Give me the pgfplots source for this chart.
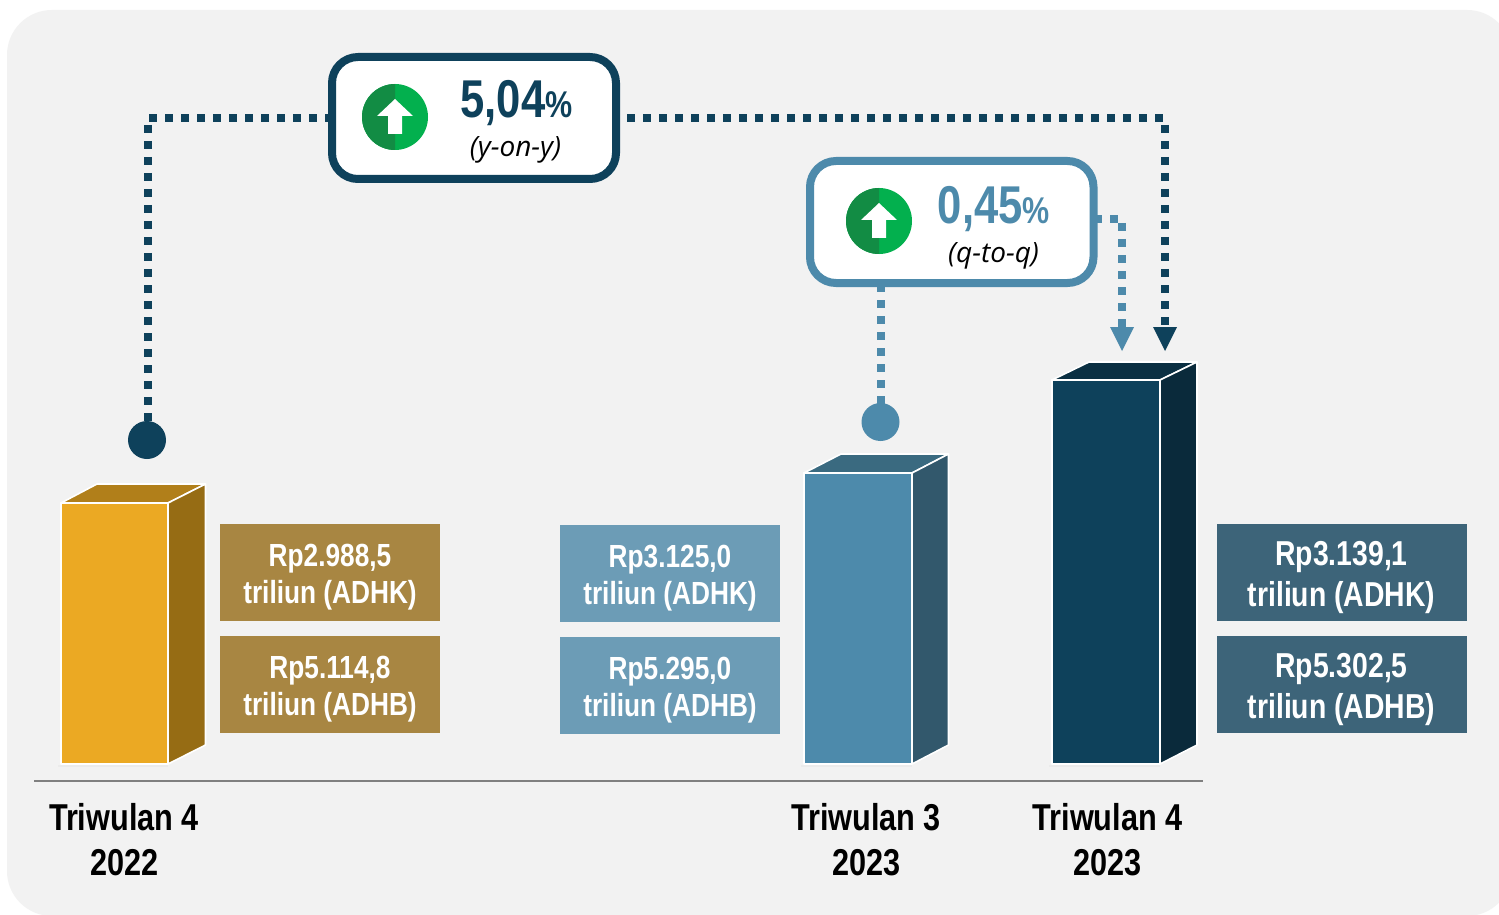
\documentclass[border=0pt]{standalone}
\usepackage{fontspec}
\usepackage{pgfplots}
\pgfplotsset{compat=1.18}
\setmainfont{Liberation Sans}
\newfontfamily\nb[FakeStretch=0.82]{Liberation Sans}
\newfontfamily\itf{Open Sans}
\definecolor{bgc}{HTML}{F2F2F2}
\definecolor{goldF}{HTML}{EBA923}
\definecolor{goldS}{HTML}{966C14}
\definecolor{goldT}{HTML}{B17F1A}
\definecolor{goldB}{HTML}{A88642}
\definecolor{blueF}{HTML}{4D8AAB}
\definecolor{blueS}{HTML}{32586C}
\definecolor{blueT}{HTML}{3A6A80}
\definecolor{blueB}{HTML}{6C9CB6}
\definecolor{navyF}{HTML}{0E415B}
\definecolor{navyS}{HTML}{0A2A3B}
\definecolor{navyT}{HTML}{0A2F42}
\definecolor{navyB}{HTML}{3D6479}
\definecolor{grD}{HTML}{128C44}
\definecolor{grL}{HTML}{03B04E}
\pgfdeclareplotmark{halfL}{%
  \pgfpathmoveto{\pgfqpoint{0pt}{\pgfplotmarksize}}%
  \pgfpatharc{90}{270}{\pgfplotmarksize}%
  \pgfpathclose\pgfusepathqfill}
\pgfdeclareplotmark{disc}{%
  \pgfpathcircle{\pgfpointorigin}{\pgfplotmarksize}\pgfusepathqfill}
\newcommand{\fs}[1]{\fontsize{#1bp}{#1bp}\selectfont}
\tikzset{
  lab/.style={anchor=base,text=white,inner sep=0pt,font=\nb\bfseries\fs{16}},
  labb/.style={anchor=base,text=white,inner sep=0pt,font=\nb\bfseries\fs{17.3}},
  cat/.style={anchor=base,text=black,inner sep=0pt,font=\nb\bfseries\fs{18.7}},
  dotN/.style={draw=navyF,line width=4bp,dash pattern=on 4bp off 4bp},
  dotB/.style={draw=blueF,line width=4bp,dash pattern=on 4bp off 4bp},
  edge/.style={draw=white,line width=0.8bp,line join=round},
}
\begin{document}
\begin{tikzpicture}
\begin{axis}[
  scale only axis,width=749.5bp,height=457.5bp,
  xmin=0,xmax=1499,ymin=0,ymax=915,y dir=reverse,
  hide axis,clip=true,clip marker paths=true]
% page and panel
\addplot[fill=white,draw=none] coordinates {(0,0)(1499,0)(1499,915)(0,915)} --cycle;
\addplot[fill=bgc,draw=none,rounded corners=22.5bp] coordinates {(7,10)(1512,10)(1512,916)(7,916)} --cycle;
% baseline
\addplot[draw=black!50,line width=1.2bp] coordinates {(34,781)(1203,781)};
% bar shadows
\addplot[draw=black!8,line width=1bp] coordinates {(58,766)(168,766)};
\addplot[draw=black!8,line width=1bp] coordinates {(801,766)(912,766)};
\addplot[draw=black!8,line width=1bp] coordinates {(1049,766)(1160,766)};
% bar 1: Triwulan 4 2022
\addplot[fill=goldT,edge] coordinates {(61,503)(97,484)(205.5,484)(168,503)} --cycle;
\addplot[fill=goldS,edge] coordinates {(168,503)(205.5,484)(205.5,745)(168,764)} --cycle;
\addplot[fill=goldF,edge] coordinates {(61,503)(168,503)(168,764)(61,764)} --cycle;
% bar 2: Triwulan 3 2023
\addplot[fill=blueT,edge] coordinates {(804,473)(841,454)(948.5,454)(912,473)} --cycle;
\addplot[fill=blueS,edge] coordinates {(912,473)(948.5,454)(948.5,745)(912,764)} --cycle;
\addplot[fill=blueF,edge] coordinates {(804,473)(912,473)(912,764)(804,764)} --cycle;
% bar 3: Triwulan 4 2023
\addplot[fill=navyT,edge] coordinates {(1052,380)(1089,362)(1197,362)(1160,380)} --cycle;
\addplot[fill=navyS,edge] coordinates {(1160,380)(1197,362)(1197,745)(1160,764)} --cycle;
\addplot[fill=navyF,edge] coordinates {(1052,380)(1160,380)(1160,764)(1052,764)} --cycle;
% value boxes
\addplot[fill=goldB,draw=none] coordinates {(220,524)(440,524)(440,621)(220,621)} --cycle;
\addplot[fill=goldB,draw=none] coordinates {(220,636)(440,636)(440,733)(220,733)} --cycle;
\addplot[fill=blueB,draw=none] coordinates {(560,525)(780,525)(780,622)(560,622)} --cycle;
\addplot[fill=blueB,draw=none] coordinates {(560,637)(780,637)(780,734)(560,734)} --cycle;
\addplot[fill=navyB,draw=none] coordinates {(1217,524)(1467,524)(1467,621)(1217,621)} --cycle;
\addplot[fill=navyB,draw=none] coordinates {(1217,636)(1467,636)(1467,733)(1217,733)} --cycle;
% dotted connectors
\addplot[dotN] coordinates {(147.5,125)(147.5,429)};
\addplot[dotN] coordinates {(149,118.3)(333,118.3)};
\addplot[dotN] coordinates {(627,118.3)(1163,118.3)};
\addplot[dotN] coordinates {(1165,125)(1165,333)};
\addplot[dotB] coordinates {(880.5,284)(880.5,404)};
\addplot[dotB] coordinates {(1094,219)(1118,219)};
\addplot[dotB] coordinates {(1122,223)(1122,327)};
% arrow heads
\addplot[fill=blueF,draw=none] coordinates {(1110,327)(1134,327)(1122,351)} --cycle;
\addplot[fill=navyF,draw=none] coordinates {(1153,327)(1177,327)(1165,351)} --cycle;
% start dots
\addplot[only marks,mark=disc,mark size=9.5bp,draw=none,fill=navyF,mark options={fill=navyF}] coordinates {(147,440)};
\addplot[only marks,mark=disc,mark size=9.5bp,draw=none,fill=blueF,mark options={fill=blueF}] coordinates {(880.5,422)};
% bubbles
\addplot[fill=white,draw=navyF,line width=4bp,rounded corners=13bp] coordinates {(332,57)(616,57)(616,179)(332,179)} --cycle;
\addplot[fill=white,draw=blueF,line width=4bp,rounded corners=13bp] coordinates {(810,161)(1093.5,161)(1093.5,283)(810,283)} --cycle;
% icons
\addplot[only marks,mark=disc,mark size=16.5bp,draw=none,fill=grL,mark options={fill=grL}] coordinates {(395,117)};
\addplot[only marks,mark=halfL,mark size=16.5bp,draw=none,fill=grD,mark options={fill=grD}] coordinates {(395,117)};
\addplot[fill=white,draw=none] coordinates {(395,99)(413,116)(402,116)(402,134)(388,134)(388,116)(377,116)} --cycle;
\addplot[only marks,mark=disc,mark size=16.5bp,draw=none,fill=grL,mark options={fill=grL}] coordinates {(879,221)};
\addplot[only marks,mark=halfL,mark size=16.5bp,draw=none,fill=grD,mark options={fill=grD}] coordinates {(879,221)};
\addplot[fill=white,draw=none] coordinates {(879,203)(897,220)(886,220)(886,238)(872,238)(872,220)(861,220)} --cycle;
% bubble text
\node[anchor=base west,inner sep=0pt,text=navyF] at (axis cs:460,118) {\nb\bfseries\fs{26.6}5,04\fs{18.6}\%};
\node[anchor=base,inner sep=0pt,text=black] at (axis cs:515.5,157) {\itf\itshape\fs{14}(y-on-y)};
\node[anchor=base west,inner sep=0pt,text=blueF] at (axis cs:937.5,223) {\nb\bfseries\fs{26.6}0,45\fs{18.6}\%};
\node[anchor=base,inner sep=0pt,text=black] at (axis cs:993.5,262) {\itf\itshape\fs{14}(q-to-q)};
% value labels
\node[lab] at (axis cs:330,566) {Rp2.988,5};
\node[lab] at (axis cs:330,603.5) {triliun (ADHK)};
\node[lab] at (axis cs:330,678) {Rp5.114,8};
\node[lab] at (axis cs:330,715.5) {triliun (ADHB)};
\node[lab] at (axis cs:670,567) {Rp3.125,0};
\node[lab] at (axis cs:670,604.5) {triliun (ADHK)};
\node[lab] at (axis cs:670,679) {Rp5.295,0};
\node[lab] at (axis cs:670,716.5) {triliun (ADHB)};
\node[labb] at (axis cs:1341.5,565) {Rp3.139,1};
\node[labb] at (axis cs:1341.5,606.5) {triliun (ADHK)};
\node[labb] at (axis cs:1341.5,677) {Rp5.302,5};
\node[labb] at (axis cs:1341.5,718.5) {triliun (ADHB)};
% categories
\node[cat] at (axis cs:124,830) {Triwulan 4};
\node[cat] at (axis cs:124.5,875) {2022};
\node[cat] at (axis cs:866,830) {Triwulan 3};
\node[cat] at (axis cs:866.5,875) {2023};
\node[cat] at (axis cs:1107.5,830) {Triwulan 4};
\node[cat] at (axis cs:1107.5,875) {2023};
\end{axis}
\end{tikzpicture}
\end{document}
